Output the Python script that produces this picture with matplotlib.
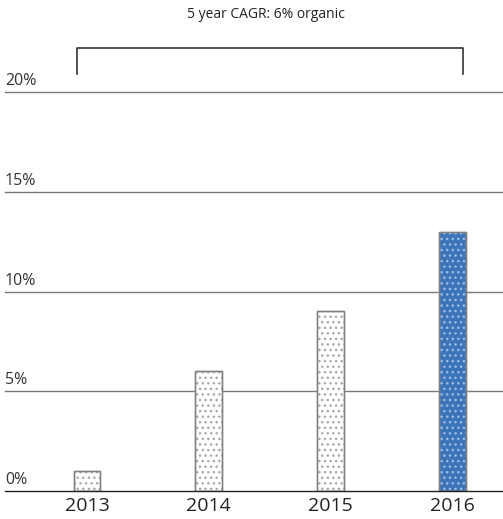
import matplotlib
matplotlib.use("Agg")
import matplotlib.pyplot as plt
import numpy as np

plt.rcParams['font.family'] = ['Open Sans', 'DejaVu Sans']

years = ["2013", "2014", "2015", "2016"]
growth = [1.0, 6.0, 9.0, 13.0]
yticks = [0, 5, 10, 15, 20]
ytick_labels = ["0%", "5%", "10%", "15%", "20%"]
title = "5 year CAGR: 6% organic"

fill_colors = ["white", "white", "white", "#3c74b9"]
dot_colors = ["#a8a8a8", "#a8a8a8", "#a8a8a8", "#9dbde3"]

fig = plt.figure(figsize=(5.03, 5.19), dpi=100)
ax = fig.add_axes([5 / 503, 1 - 491 / 519, 498 / 503, (491 - 92) / 519])

x = np.arange(len(years))
w = 0.22
# fill + outline, then dots on top
ax.bar(x, growth, width=w, color=fill_colors, edgecolor="#8a8a8a", linewidth=1.0, zorder=3)
for xi, v, dc in zip(x, growth, dot_colors):
    ax.bar(xi, v, width=w, color="none", edgecolor=dc, hatch="...", linewidth=0, zorder=4)
ax.bar(x, growth, width=w, color="none", edgecolor="#808080", linewidth=1.0, zorder=5)

ax.set_xlim(-0.674, 3.418)
ax.set_ylim(0, 20)

for t, lab in zip(yticks, ytick_labels):
    lc = "#222222" if t == 0 else "#7a7a7a"
    ax.axhline(t, color=lc, linewidth=1.0, zorder=6 if t == 0 else 2, clip_on=False)
    ax.text(-0.674, t + 0.15, lab, fontsize=11.5, color="#333333", ha="left", va="bottom")

ax.set_xticks(x)
ax.set_xticklabels(years, fontsize=14, color="#222222")
ax.tick_params(axis="x", length=0, pad=4)
ax.set_yticks([])
for s in ax.spines.values():
    s.set_visible(False)

# bracket over the bars
bx = [-0.082, -0.082, 3.09, 3.09]
by = [20.9, 22.2, 22.2, 20.9]
ax.plot(bx, by, color="#333333", linewidth=1.2, clip_on=False)
fig.text(266 / 503, 1 - 14 / 519, title, fontsize=10, color="#222222", ha="center", va="center")

fig.savefig("out.png", dpi=100)
